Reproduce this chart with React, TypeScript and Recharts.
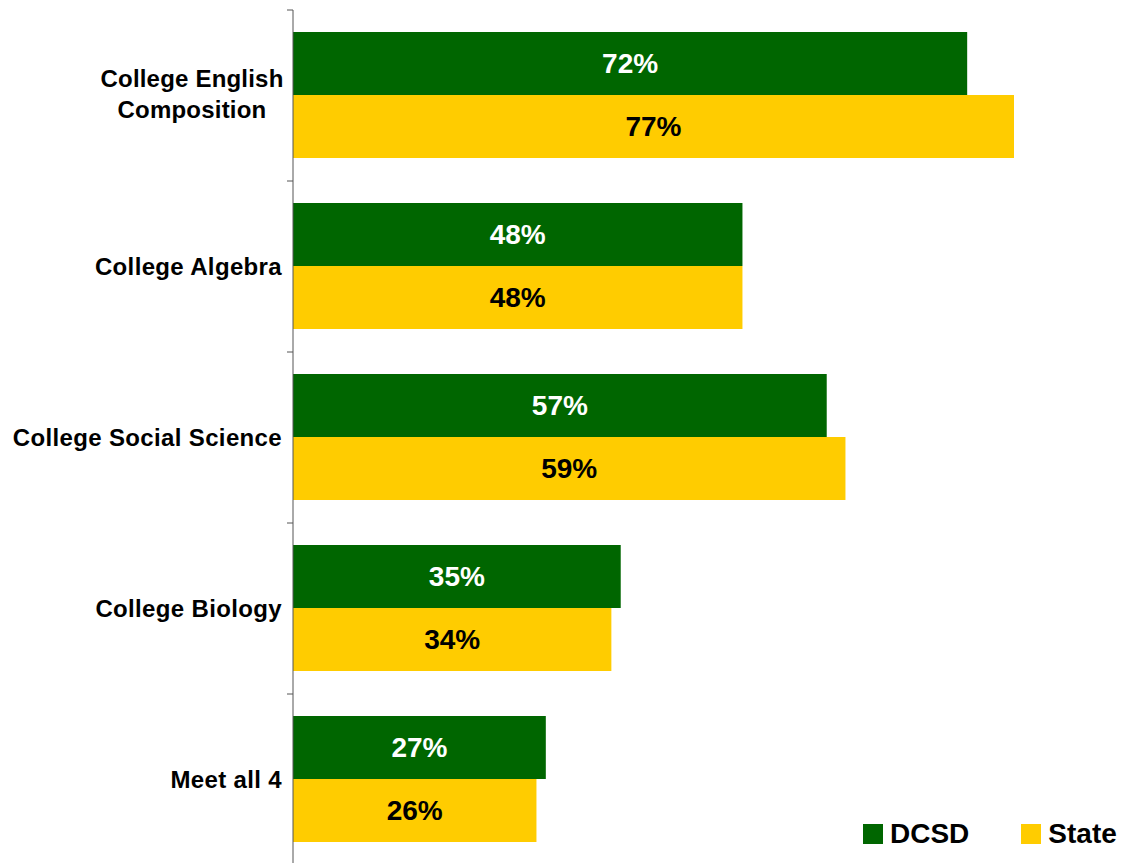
import React from 'react';
import { BarChart, Bar, XAxis, YAxis, Legend, LabelList } from 'recharts';

const categories = [
    ['College English', 'Composition'],
    ['College Algebra'],
    ['College Social Science'],
    ['College Biology'],
    ['Meet all 4'],
];
const dcsdValues = [72, 48, 57, 35, 27];
const stateValues = [77, 48, 59, 34, 26];

const GREEN = '#006600';
const YELLOW = '#ffcc00';
const FONT = "Arial, 'Liberation Sans', sans-serif";

const data = categories.map((lines, i) => ({
    name: lines.join('\n'),
    dcsd: dcsdValues[i],
    state: stateValues[i],
}));

const CategoryTick = (props: any) => {
    const { x, y, payload, index, visibleTicksCount } = props;
    const lines: string[] = String(payload.value).split('\n');
    const half = payload.offset || 0;
    const axisX = x + 11;
    const isLast = index === visibleTicksCount - 1;
    return (
        <g>
            <line x1={axisX - 6} x2={axisX} y1={y - half} y2={y - half} stroke="#555" strokeWidth={1} />
            {isLast && (
                <line x1={axisX - 6} x2={axisX} y1={y + half} y2={y + half} stroke="#555" strokeWidth={1} />
            )}
            {lines.length === 1 ? (
                <text x={x} y={y + 8} textAnchor="end" fontFamily={FONT} fontWeight="bold" fontSize={24} letterSpacing={0.35} fill="#000">
                    {lines[0]}
                </text>
            ) : (
                // multi-line labels are centred on each other, block right-aligned
                <text textAnchor="middle" fontFamily={FONT} fontWeight="bold" fontSize={24} letterSpacing={0.2} fill="#000">
                    {lines.map((l, i) => (
                        <tspan key={i} x={x - Math.max(...lines.map((s) => s.length)) * 6} y={y - 9 + i * 31}>
                            {l}
                        </tspan>
                    ))}
                </text>
            )}
        </g>
    );
};

const renderLegend = (props: any) => {
    const { payload } = props;
    return (
        <div style={{ display: 'flex', alignItems: 'center', fontFamily: FONT }}>
            {payload.map((entry: any, i: number) => (
                <div key={i} style={{ display: 'flex', alignItems: 'center', marginRight: i === 0 ? 52 : 0 }}>
                    <span style={{ width: 20, height: 20, background: entry.color, display: 'inline-block', marginRight: 7 }} />
                    <span style={{ fontSize: 28, fontWeight: 'bold', color: '#000', lineHeight: '28px' }}>{entry.value}</span>
                </div>
            ))}
        </div>
    );
};

const App: React.FC = () => {
    return (
        <div style={{ position: 'absolute', left: 0, top: 0, width: 1122, height: 863, overflow: 'hidden', background: '#fff' }}>
            <BarChart
                width={1122}
                height={865}
                data={data}
                layout="vertical"
                margin={{ top: 10, right: 5, bottom: 0, left: 0 }}
                barCategoryGap="12.9%"
                barGap={0}
            >
                <XAxis type="number" domain={[0, 88]} hide />
                <YAxis
                    type="category"
                    dataKey="name"
                    width={293}
                    axisLine={{ stroke: '#555', strokeWidth: 1 }}
                    tickLine={false}
                    tickSize={6}
                    tickMargin={5}
                    tick={<CategoryTick />}
                    interval={0}
                />
                <Legend
                    layout="horizontal"
                    verticalAlign="middle"
                    content={renderLegend}
                    wrapperStyle={{ position: 'absolute', left: 863, top: 820, width: 259 }}
                />
                <Bar dataKey="dcsd" name="DCSD" fill={GREEN} isAnimationActive={false}>
                    <LabelList
                        dataKey="dcsd"
                        position="center"
                        formatter={(v: any) => `${v}%`}
                        fill="#fff"
                        fontSize={28}
                        fontWeight="bold"
                        fontFamily={FONT}
                    />
                </Bar>
                <Bar dataKey="state" name="State" fill={YELLOW} isAnimationActive={false}>
                    <LabelList
                        dataKey="state"
                        position="center"
                        formatter={(v: any) => `${v}%`}
                        fill="#000"
                        fontSize={28}
                        fontWeight="bold"
                        fontFamily={FONT}
                    />
                </Bar>
            </BarChart>
        </div>
    );
};

export default App;
